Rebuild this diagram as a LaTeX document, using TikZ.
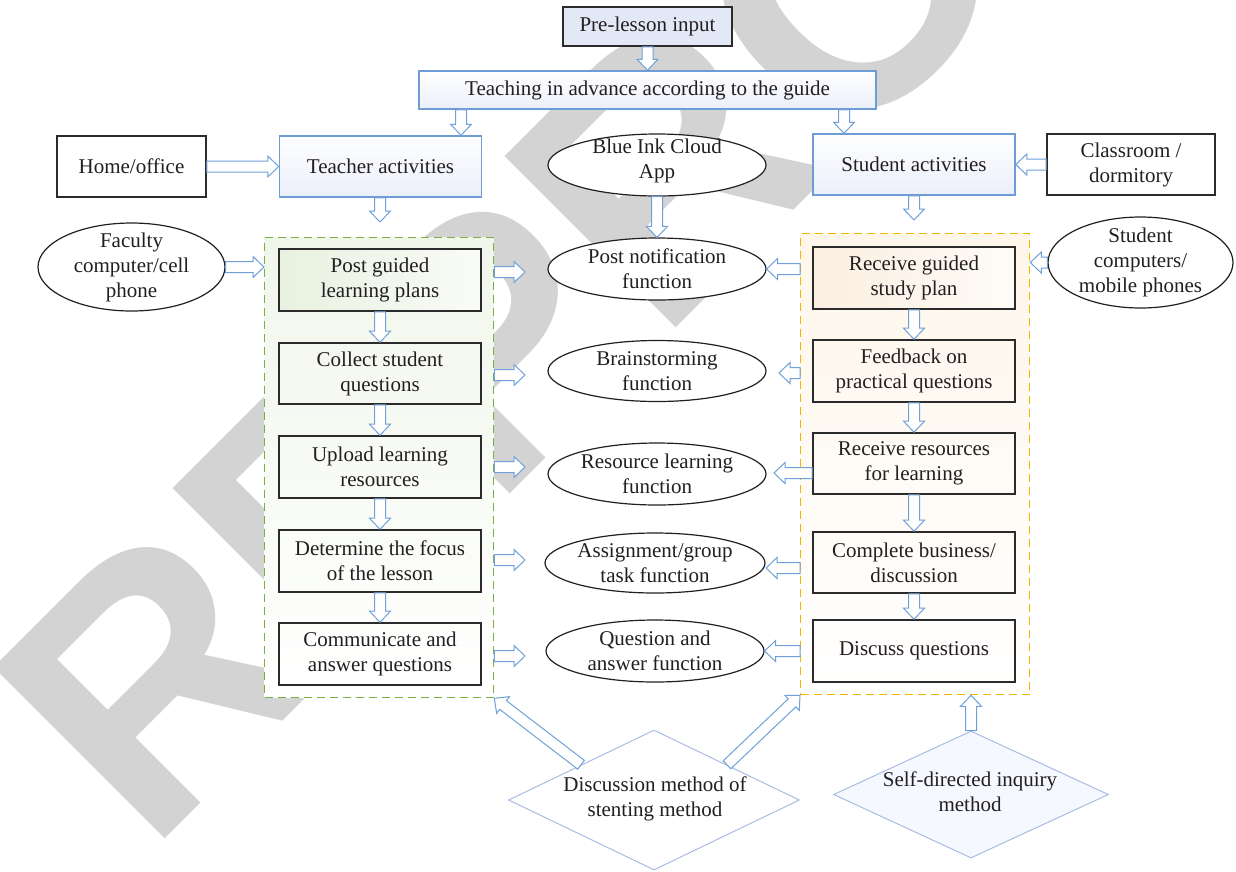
\documentclass[tikz,border=0pt]{standalone}
\usepackage{fontspec}
\setmainfont{Liberation Serif}
\newfontfamily\markfont{Liberation Sans}
\usetikzlibrary{calc,shapes.geometric}

\definecolor{inkc}{HTML}{231F20}
\definecolor{boxline}{HTML}{2B2B2B}
\definecolor{ablue}{HTML}{6FA0D8}
\definecolor{bbord}{HTML}{6E9CD5}
\definecolor{bluefill}{HTML}{EBEFFA}
\definecolor{prefill}{HTML}{E3E8F7}
\definecolor{gdash}{HTML}{78B043}
\definecolor{odash}{HTML}{F2B500}
\definecolor{gtint}{HTML}{F1F6EB}
\definecolor{otint}{HTML}{FEF6EA}
\definecolor{gfill}{HTML}{E8F1E0}
\definecolor{ofill}{HTML}{FBEFE0}
\definecolor{dbord}{HTML}{A9BDE2}
\definecolor{dfill}{HTML}{F5F8FE}
\definecolor{wmark}{HTML}{D3D3D3}

% block-arrow geometry: half shaft width, half head width, head length
\newcommand{\arrshaft}{5.5pt}
\newcommand{\arrwing}{10.5pt}
\newcommand{\arrhead}{11pt}

\tikzset{
  lbl/.style={font=\fontsize{21}{25}\selectfont, text=inkc, align=center, inner sep=0pt},
  plainbox/.style={lbl, rectangle, draw=boxline, line width=1.6pt},
  bluebox/.style={lbl, rectangle, draw=bbord, line width=1.5pt, top color=white, bottom color=bluefill},
  oval/.style={ellipse, draw=inkc, line width=1.2pt, fill=white, inner sep=0pt},
  dmd/.style={diamond, draw=dbord, line width=1pt, inner sep=0pt},
  region/.style={rectangle, line width=1.3pt, dash pattern=on 8pt off 5pt, inner sep=0pt, anchor=north west},
  wm/.style={font=\markfont\bfseries\fontsize{352}{352}\selectfont, text=wmark, inner sep=0pt, rotate=45, anchor=base west},
  barrow/.style={draw=ablue, fill=white, line width=1pt, line join=miter,
    to path={
      ($(\tikztostart)!\arrshaft!90:(\tikztotarget)$)
      -- ($($(\tikztotarget)!\arrhead!(\tikztostart)$)!\arrshaft!-90:(\tikztostart)$)
      -- ($($(\tikztotarget)!\arrhead!(\tikztostart)$)!\arrwing!-90:(\tikztostart)$)
      -- (\tikztotarget)
      -- ($($(\tikztotarget)!\arrhead!(\tikztostart)$)!\arrwing!90:(\tikztostart)$)
      -- ($($(\tikztotarget)!\arrhead!(\tikztostart)$)!\arrshaft!90:(\tikztostart)$)
      -- ($(\tikztostart)!\arrshaft!-90:(\tikztotarget)$)
      -- cycle}}
}

\begin{document}
\begin{tikzpicture}[x=1pt,y=-1pt]
\useasboundingbox (0,0) rectangle (1236,871);

% background stamp
\node[wm] (mark) at (148,856) {REPRODUCED};

% dashed activity groups
\node[region, draw=gdash, top color=gtint, middle color=white, bottom color=white, minimum width=229pt, minimum height=460pt] (green) at (264,237) {};
\node[region, draw=odash, top color=otint, middle color=white, bottom color=white, minimum width=229pt, minimum height=461pt] (orange) at (800,233) {};

% top rows
\node[lbl, rectangle, draw=boxline, line width=1.6pt, fill=prefill, minimum width=169pt, minimum height=39pt] (pre) at (647.5,26.5) {Pre-lesson input};
\node[bluebox, minimum width=457pt, minimum height=38pt] (teach) at (647.5,90) {Teaching in advance according to the guide};
\node[plainbox, fill=white, minimum width=149pt, minimum height=61pt] (home) at (131.5,166.5) {Home/office};
\node[bluebox, minimum width=202pt, minimum height=61pt] (teacher) at (380.5,166.5) {Teacher activities};
\node[oval, minimum width=218pt, minimum height=62pt] (ink) at (657,165) {};
\node[lbl] (ink-t) at (657,161) {Blue Ink Cloud\\App};
\node[bluebox, minimum width=202pt, minimum height=61pt] (student) at (914,164.5) {Student activities};
\node[plainbox, fill=white, minimum width=168pt, minimum height=61pt] (class) at (1131,164.5) {Classroom /\\dormitory};
\node[oval, minimum width=187pt, minimum height=88pt] (fac) at (131.5,267) {};
\node[lbl] (fac-t) at (fac) {Faculty\\computer/cell\\phone};
\node[oval, minimum width=185pt, minimum height=91pt] (scp) at (1140.5,262.5) {};
\node[lbl] (scp-t) at (scp) {Student\\computers/\\mobile phones};

% teacher column
\node[plainbox, left color=gfill, right color=gfill!25!white, minimum width=202pt, minimum height=62pt] (L1) at (380,280) {Post guided\\learning plans};
\node[plainbox, minimum width=202pt, minimum height=61pt] (L2) at (380,373.5) {Collect student\\questions};
\node[plainbox, minimum width=202pt, minimum height=62pt] (L3) at (380,467) {Upload learning\\resources};
\node[plainbox, minimum width=202pt, minimum height=62pt] (L4) at (380,561) {Determine the focus\\of the lesson};
\node[plainbox, minimum width=202pt, minimum height=62pt] (L5) at (380,654) {Communicate and\\answer questions};

% student column
\node[plainbox, left color=ofill, right color=ofill!25!white, minimum width=202pt, minimum height=62pt] (R1) at (914,278) {Receive guided\\study plan};
\node[plainbox, minimum width=202pt, minimum height=62pt] (R2) at (914,371) {Feedback on\\practical questions};
\node[plainbox, minimum width=202pt, minimum height=61pt] (R3) at (914,463.5) {Receive resources\\for learning};
\node[plainbox, minimum width=202pt, minimum height=61pt] (R4) at (914,562.5) {Complete business/\\discussion};
\node[plainbox, minimum width=202pt, minimum height=62pt] (R5) at (914,651) {Discuss questions};

% app functions
\node[oval, minimum width=218pt, minimum height=62pt] (E1) at (657,269) {};
\node[lbl] (E1-t) at (E1) {Post notification\\function};
\node[oval, minimum width=218pt, minimum height=61pt] (E2) at (657,371) {};
\node[lbl] (E2-t) at (E2) {Brainstorming\\function};
\node[oval, minimum width=218pt, minimum height=62pt] (E3) at (657,474) {};
\node[lbl] (E3-t) at (E3) {Resource learning\\function};
\node[oval, minimum width=220pt, minimum height=60pt] (E4) at (655,563) {};
\node[lbl] (E4-t) at (E4) {Assignment/group\\task function};
\node[oval, minimum width=218pt, minimum height=62pt] (E5) at (655,651) {};
\node[lbl] (E5-t) at (E5) {Question and\\answer function};

% methods
\node[dmd, fill=white, minimum width=291pt, minimum height=140pt] (dis) at (654,800) {};
\node[lbl] (dis-t) at (655,799) {Discussion method of\\stenting method};
\node[dmd, fill=dfill, minimum width=275pt, minimum height=127pt] (sdi) at (971,794.5) {};
\node[lbl] (sdi-t) at (970,792) {Self-directed inquiry\\method};

% connectors
\draw[barrow] (pre.south) to (teach.north);
\draw[barrow] (teach.south -| 461,0) to (teacher.north -| 461,0);
\draw[barrow] (teach.south -| 844,0) to (student.north -| 844,0);
\draw[barrow] (home.east) to (teacher.west);
\draw[barrow] (class.west) to (student.east);
\coordinate (tdown) at (380,222);
\draw[barrow] (teacher.south -| tdown) to (tdown);
\coordinate (sdown) at (914,220);
\draw[barrow] (student.south) to (sdown);
\draw[barrow] (ink.south) to (E1.north);
\draw[barrow] (fac.east) to (green.west |- fac.east);
\draw[barrow] (scp.west) to (orange.east |- scp.west);

\foreach \a/\b in {L1/L2, L2/L3, L3/L4, L4/L5, R1/R2, R2/R3, R3/R4, R4/R5}
  \draw[barrow] (\a.south) to (\b.north);

\foreach \y [count=\i] in {272,375,467,560,656} {
  \coordinate (la\i) at (525,\y);
  \draw[barrow] (green.east |- la\i) to (la\i);
}

\coordinate (ra2) at (779,373);
\coordinate (ra3) at (774,473);
\coordinate (ra4) at (766,568);
\draw[barrow] (orange.west |- E1.east) to (E1.east);
\draw[barrow] (orange.west |- ra2) to (ra2);
\draw[barrow] (R3.west |- ra3) to (ra3);
\draw[barrow] (orange.west |- ra4) to (ra4);
\draw[barrow] (orange.west |- E5.east) to (E5.east);

\draw[barrow] (dis.north west) to (green.south east);
\draw[barrow] (dis.north east) to (orange.south west);
\draw[barrow] (sdi.north) to (sdi.north |- orange.south);
\end{tikzpicture}
\end{document}
